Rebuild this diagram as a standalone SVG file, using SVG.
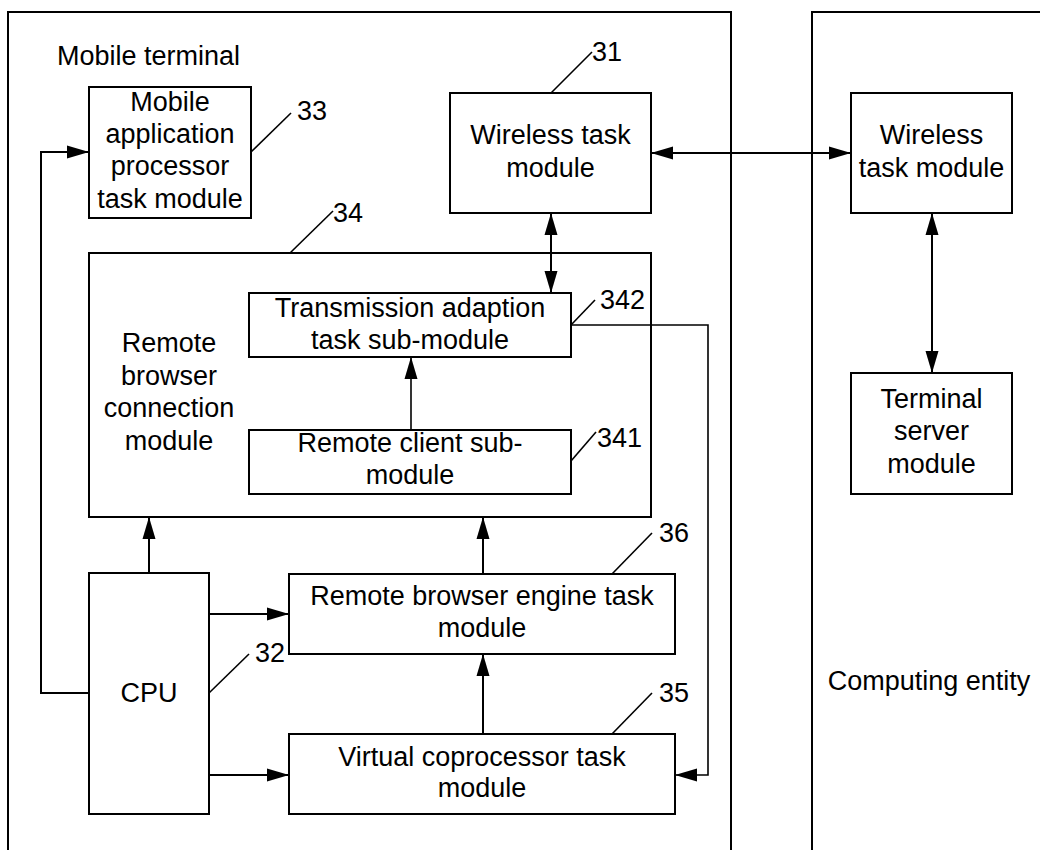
<svg xmlns="http://www.w3.org/2000/svg" width="1040" height="850" viewBox="0 0 1040 850">
<style>
text{font-family:"Liberation Sans",Arial,sans-serif;font-size:27px;fill:#000}
.c{text-anchor:middle}
.box{fill:#fff;stroke:#000;stroke-width:2}
.frame{fill:none;stroke:#000;stroke-width:2}
.ln{fill:none;stroke:#000;stroke-width:2}
.thin{fill:none;stroke:#000;stroke-width:1.6}
.ar{marker-end:url(#ah)}
.ar2{marker-start:url(#ah);marker-end:url(#ah)}
</style>
<defs>
<marker id="ah" markerUnits="userSpaceOnUse" markerWidth="22" markerHeight="14" refX="22" refY="7" orient="auto-start-reverse"><path d="M0,0.5 L22,7 L0,13.5 z" fill="#000"/></marker>
</defs>
<rect width="1040" height="850" fill="#fff"/>
<g id="frames">
<path class="frame" d="M8,851 V12 H731 V851"/>
<path class="frame" d="M812,851 V12 H1041"/>
<text x="57" y="65">Mobile terminal</text>
<text class="c" x="929" y="690">Computing entity</text>
</g>
<g id="n33">
<rect class="box" x="89" y="87" width="162" height="131"/>
<text class="c" x="170" y="111">Mobile</text>
<text class="c" x="170" y="143">application</text>
<text class="c" x="170" y="175">processor</text>
<text class="c" x="170" y="208">task module</text>
<path class="thin" d="M251,152 L291,113"/>
<text x="297" y="120">33</text>
</g>
<g id="n31">
<rect class="box" x="450" y="93" width="201" height="120"/>
<text class="c" x="550.5" y="144">Wireless task</text>
<text class="c" x="550.5" y="177">module</text>
<path class="thin" d="M551,93 L592,52"/>
<text x="592" y="61">31</text>
</g>
<g id="nWireless">
<rect class="box" x="851" y="93" width="161" height="120"/>
<text class="c" x="931.5" y="144">Wireless</text>
<text class="c" x="931.5" y="177">task module</text>
</g>
<g id="nTerminal">
<rect class="box" x="851" y="373" width="161" height="121"/>
<text class="c" x="931.5" y="408">Terminal</text>
<text class="c" x="931.5" y="440">server</text>
<text class="c" x="931.5" y="473">module</text>
</g>
<g id="n34">
<rect class="box" x="89" y="253" width="562" height="264"/>
<text class="c" x="169" y="352">Remote</text>
<text class="c" x="169" y="385">browser</text>
<text class="c" x="169" y="417">connection</text>
<text class="c" x="169" y="450">module</text>
<path class="thin" d="M290,253 L333,211"/>
<text x="333" y="222">34</text>
</g>
<g id="n342">
<rect class="box" x="249" y="293" width="322" height="64"/>
<text class="c" x="410" y="317">Transmission adaption</text>
<text class="c" x="410" y="349">task sub-module</text>
<path class="thin" d="M571,325 L595,300"/>
<text x="600" y="309">342</text>
</g>
<g id="n341">
<rect class="box" x="249" y="430" width="322" height="64"/>
<text class="c" x="410" y="452">Remote client sub-</text>
<text class="c" x="410" y="484">module</text>
<path class="thin" d="M571,461 L596,432"/>
<text x="597" y="447">341</text>
</g>
<g id="n32">
<rect class="box" x="89" y="573" width="120" height="241"/>
<text class="c" x="149" y="702">CPU</text>
<path class="thin" d="M209,693 L249,654"/>
<text x="255" y="662">32</text>
</g>
<g id="n36">
<rect class="box" x="289" y="574" width="386" height="80"/>
<text class="c" x="482" y="605">Remote browser engine task</text>
<text class="c" x="482" y="637">module</text>
<path class="thin" d="M612,574 L652,533"/>
<text x="659" y="542">36</text>
</g>
<g id="n35">
<rect class="box" x="289" y="734" width="386" height="80"/>
<text class="c" x="482" y="766">Virtual coprocessor task</text>
<text class="c" x="482" y="797">module</text>
<path class="thin" d="M612,734 L652,693"/>
<text x="659" y="702">35</text>
</g>
<g id="connectors">
<path class="ln ar" d="M89,693 H41 V152 H89"/>
<path class="ln ar2" d="M651,153 H851"/>
<path class="ln ar2" d="M551,213 V293"/>
<path class="ln ar2" d="M932,213 V373"/>
<path class="thin ar" d="M411,430 V357"/>
<path class="thin ar" d="M571,325 H708 V775 H675"/>
<path class="ln ar" d="M149,573 V517"/>
<path class="ln ar" d="M483,574 V517"/>
<path class="ln ar" d="M483,734 V654"/>
<path class="ln ar" d="M209,614 H289"/>
<path class="ln ar" d="M209,775 H289"/>
</g>
</svg>
